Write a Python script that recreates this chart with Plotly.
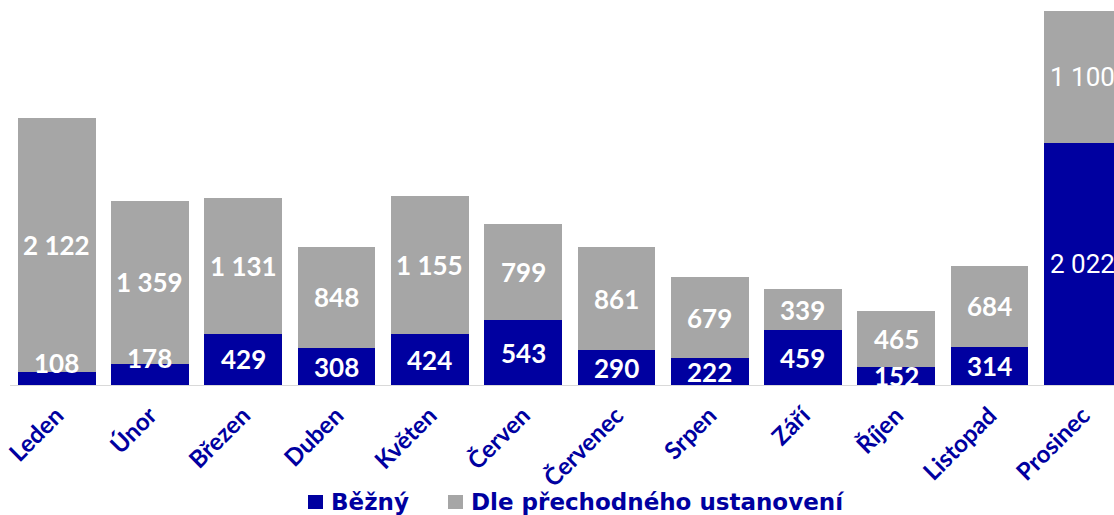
import plotly.graph_objects as go

# Monthly counts, split by type
months = ["Leden", "Únor", "Březen", "Duben", "Květen", "Červen",
          "Červenec", "Srpen", "Září", "Říjen", "Listopad", "Prosinec"]
bezny = [108, 178, 429, 308, 424, 543, 290, 222, 459, 152, 314, 2022]
prechodne = [2122, 1359, 1131, 848, 1155, 799, 861, 679, 339, 465, 684, 1100]
series_names = ["Běžný", "Dle přechodného ustanovení"]

BLUE = "#0000A0"
GRAY = "#A6A6A6"
LABEL_FONT = "Lato"
LEGEND_FONT = "DejaVu Sans"

W, H = 1114, 515
M_L, M_B = 10, 130
PLOT_W, PLOT_H = W - M_L, H - M_B

fig = go.Figure()
fig.add_trace(go.Bar(x=months, y=bezny, name=series_names[0],
                     marker=dict(color=BLUE, line=dict(width=0)),
                     hoverinfo="skip"))
fig.add_trace(go.Bar(x=months, y=prechodne, name=series_names[1],
                     marker=dict(color=GRAY, line=dict(width=0)),
                     hoverinfo="skip"))


def fmt(v):
    return f"{v:,}".replace(",", " ")


# small upward nudges (px) for labels on the thinnest segments
nudge = {"Leden": 16, "Únor": 16}

annotations = []
for m, b, p in zip(months, bezny, prechodne):
    last = m == "Prosinec"
    font = dict(family="Roboto" if last else LABEL_FONT, size=26,
                color="white", weight="normal" if last else "bold")
    annotations.append(dict(x=m, y=b / 2, text=fmt(b), showarrow=False,
                            font=font, yshift=nudge.get(m, 0),
                            xref="x", yref="y"))
    annotations.append(dict(x=m, y=b + p / 2, text=fmt(p), showarrow=False,
                            font=font, xref="x", yref="y"))


# legend row below the axis, built from a swatch and a text per series
def px_x(px):
    return (px - M_L) / PLOT_W


def px_y(py):
    return (PLOT_H - py) / PLOT_H


shapes = []
legend_row_y = 502
for name, color, sw_left in zip(series_names, [BLUE, GRAY], [308, 448]):
    shapes.append(dict(type="rect", xref="paper", yref="paper",
                       x0=px_x(sw_left), x1=px_x(sw_left + 15),
                       y0=px_y(legend_row_y + 7), y1=px_y(legend_row_y - 7),
                       fillcolor=color, line=dict(width=0)))
    annotations.append(dict(xref="paper", yref="paper",
                            x=px_x(sw_left + 21), y=px_y(legend_row_y),
                            xanchor="left", yanchor="middle",
                            text=name, showarrow=False,
                            font=dict(family=LEGEND_FONT, size=23, color=BLUE,
                                      weight="bold")))

fig.update_layout(
    width=W, height=H,
    margin=dict(l=M_L, r=0, t=0, b=M_B),
    barmode="stack", bargap=0.167,
    plot_bgcolor="white", paper_bgcolor="white",
    annotations=annotations, shapes=shapes,
    showlegend=False,
    xaxis=dict(range=[-0.5, 11.334], showgrid=False, showline=True,
               linecolor="#D9D9D9", linewidth=1, ticks="",
               tickangle=-45, automargin=False, ticklabelstandoff=6,
               tickfont=dict(family=LABEL_FONT, size=24, color=BLUE,
                             weight="bold")),
    yaxis=dict(range=[0, 3216], visible=False),
)

fig.write_html("out.html")
